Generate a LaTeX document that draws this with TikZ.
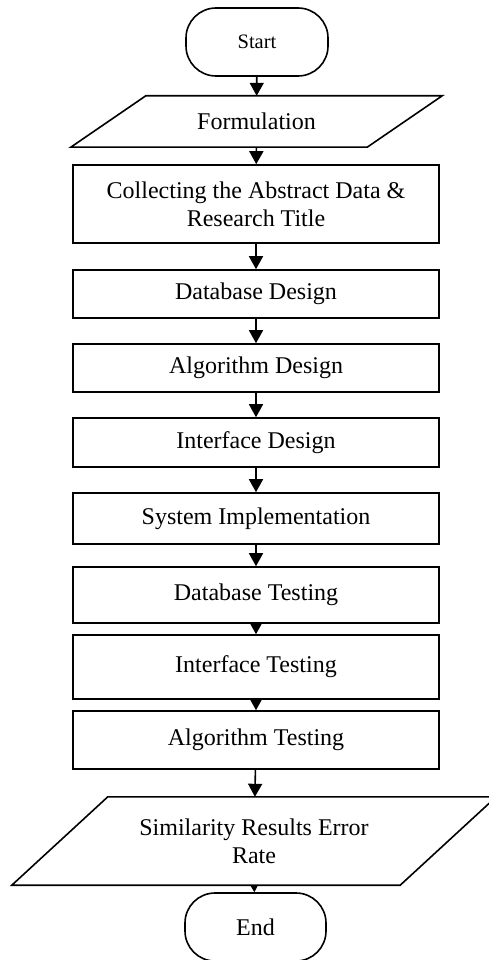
\documentclass[tikz,border=0pt]{standalone}
\usepackage{fontspec}
\setmainfont{Liberation Serif}
\usetikzlibrary{arrows.meta,backgrounds}
\pgfdeclarelayer{edges}
\pgfdeclarelayer{shapes}
\pgfsetlayers{edges,shapes,main}
\begin{document}
\begin{tikzpicture}[x=1pt,y=-1pt,
  every node/.style={font=\fontsize{24}{28}\selectfont, align=center, inner sep=0pt},
  box/.style={draw, fill=white, line width=1.6pt, minimum width=366pt},
  term/.style={draw, fill=white, line width=1.6pt, rounded corners=30pt, minimum width=142pt, minimum height=68pt},
  io/.style={minimum width=#1},
  para/.style={draw, fill=white, line width=1.6pt, line join=miter},
  conn/.style={line width=1.6pt, -{Triangle[width=14pt,length=13pt]}}
]
\useasboundingbox (0,0) rectangle (489,960);

\node[term, font=\fontsize{20.5}{24}\selectfont] (start) at (257,42) {Start};
\node[io=296pt, minimum height=51pt] (form) at (256.5,121.5) {Formulation};
\node[box, minimum height=78pt] (collect) at (256,204) {Collecting the Abstract Data \&\\Research Title};
\node[box, minimum height=48pt] (dbd) at (256,294) {Database Design};
\node[box, minimum height=48pt] (algd) at (256,368) {Algorithm Design};
\node[box, minimum height=49pt] (ifd) at (256,442.5) {Interface Design};
\node[box, minimum height=51pt] (sys) at (256,518.5) {System Implementation};
\node[box, minimum height=56pt] (dbt) at (256,595) {Database Testing};
\node[box, minimum height=64pt] (ift) at (256,667) {Interface Testing};
\node[box, minimum height=58pt] (algt) at (256,740) {Algorithm Testing};
\node[io=388pt, minimum height=88pt] (sim) at (254,841) {Similarity Results Error\\Rate};
\node[term, minimum width=141pt] (end) at (255.5,927) {End};

\begin{pgfonlayer}{shapes}
\draw[para] ([xshift=37.5pt]form.north west) -- ([xshift=37.5pt]form.north east)
  -- ([xshift=-37.5pt]form.south east) -- ([xshift=-37.5pt]form.south west) -- cycle;
\draw[para] ([xshift=48pt]sim.north west) -- ([xshift=48pt]sim.north east)
  -- ([xshift=-48pt]sim.south east) -- ([xshift=-48pt]sim.south west) -- cycle;
\end{pgfonlayer}

\begin{pgfonlayer}{edges}
\draw[conn] (start) -- (form);
\draw[conn] (form) -- (collect);
\draw[conn] (collect) -- (dbd);
\draw[conn] (dbd) -- (algd);
\draw[conn] (algd) -- (ifd);
\draw[conn] (ifd) -- (sys);
\draw[conn] (sys) -- (dbt);
\draw[conn] (dbt) -- (ift);
\draw[conn] (ift) -- (algt);
\draw[conn] (algt) -- (sim);
\draw[conn] ([yshift=5pt]sim.south) -- (end);
\end{pgfonlayer}
\end{tikzpicture}
\end{document}
